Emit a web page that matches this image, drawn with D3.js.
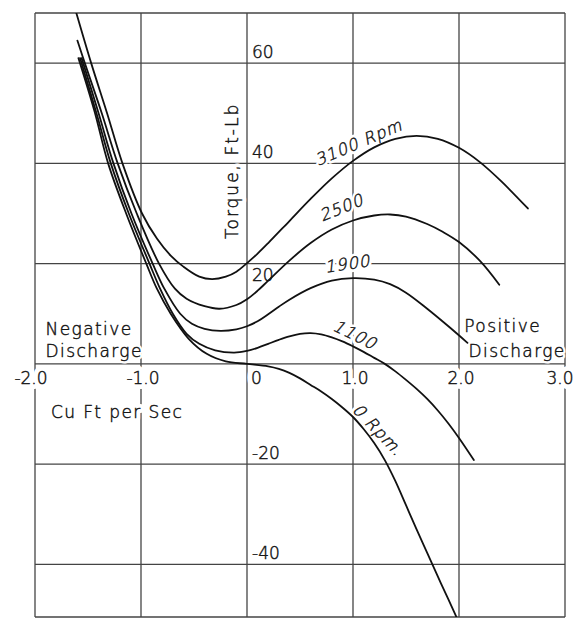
<!DOCTYPE html>
<html><head><meta charset="utf-8">
<script src="https://cdn.jsdelivr.net/npm/d3@7"></script>
<style>body{margin:0;background:#fff}svg{display:block}</style>
</head><body><svg id="c" width="576" height="619"></svg>
<script>
// ---- data ----
const xDomain = [-2, 3];
const yDomain = [-50.5, 70];
const xTicks = [-2, -1, 0, 1, 2, 3];
const xTickLabels = ["-2.0", "-1.0", "0", "1.0", "2.0", "3.0"];
const yTicks = [60, 40, 20, -20, -40];
const yTickLabels = ["60", "40", "20", "-20", "-40"];
const gridY = [60, 40, 20, 0, -20, -40];
const seriesNames = ["3100 Rpm", "2500", "1900", "1100", "0 Rpm."];
const rpm3100 = [[-1.61,70],[-1.47,60],[-1.32,50],[-1.175,40],[-0.99,30],[-0.85,25],[-0.72,21.6],[-0.6,19.4],[-0.45,17.4],[-0.33,16.9],[-0.2,17.4],[-0.1,18.4],[0,20.1],[0.1,22.0],[0.2,24.1],[0.4,28.5],[0.6,32.9],[0.8,37.0],[1.0,40.5],[1.2,43.2],[1.4,44.9],[1.6,45.5],[1.8,44.9],[2.0,43.1],[2.2,40.2],[2.4,36.4],[2.65,31]];
const rpm2500 = [[-1.6,64.5],[-1.53,60],[-1.37,50],[-1.22,40],[-1.04,30],[-0.83,20],[-0.68,15],[-0.57,13],[-0.4,11.5],[-0.26,11.0],[-0.1,11.75],[0,12.9],[0.1,14.6],[0.2,16.6],[0.4,20.6],[0.6,24.1],[0.8,26.8],[1.0,28.6],[1.2,29.6],[1.35,29.8],[1.5,29.4],[1.7,27.9],[1.85,26.3],[2.0,24.3],[2.2,20.5],[2.38,15.8]];
const rpm1900 = [[-1.56,61],[-1.40,50],[-1.26,40],[-1.09,30],[-0.89,20],[-0.78,15],[-0.63,10],[-0.52,8],[-0.4,7],[-0.25,6.6],[-0.1,6.9],[0,7.5],[0.1,8.5],[0.2,9.9],[0.3,11.4],[0.4,12.8],[0.6,15.1],[0.8,16.6],[1.0,17.1],[1.2,16.8],[1.35,15.9],[1.5,14.2],[1.7,11.0],[1.9,7.5],[2.08,4.2]];
const rpm1100 = [[-1.575,61],[-1.42,50],[-1.285,40],[-1.115,30],[-0.92,20],[-0.82,15],[-0.70,10],[-0.57,6],[-0.45,4],[-0.3,2.7],[-0.12,2.25],[0,2.6],[0.1,3.2],[0.2,4.0],[0.3,4.8],[0.4,5.5],[0.5,6.0],[0.6,6.15],[0.7,5.9],[0.8,5.3],[0.9,4.5],[1.0,3.5],[1.1,2.4],[1.2,1.2],[1.3,0.0],[1.4,-1.5],[1.5,-3.2],[1.6,-5.0],[1.7,-7.0],[1.8,-9.3],[1.9,-11.9],[2.0,-14.8],[2.14,-19.2]];
const rpm0 = [[-1.59,61],[-1.44,50.5],[-1.31,40],[-1.14,30],[-0.95,20],[-0.85,15],[-0.72,10],[-0.55,5],[-0.38,2],[-0.2,0.5],[0,0],[0.2,-0.5],[0.3,-1.0],[0.4,-1.8],[0.5,-2.9],[0.6,-4.2],[0.7,-5.5],[0.8,-7.0],[0.9,-8.7],[1.0,-10.6],[1.1,-13.0],[1.2,-15.8],[1.3,-19.2],[1.4,-23.4],[1.5,-28.2],[1.6,-33.0],[1.7,-37.7],[1.8,-42.4],[1.9,-47.0],[1.98,-50.7]];
const series = [rpm3100, rpm2500, rpm1900, rpm1100, rpm0];

// ---- layout ----
const svg = d3.select("#c");
const x = d3.scaleLinear().domain(xDomain).range([35, 565]);
const y = d3.scaleLinear().domain(yDomain).range([617, 13]);
const FONT = "DejaVu Sans, Verdana, sans-serif";
const INK = "#161616", GRID = "#444";

svg.append("rect").attr("width", 576).attr("height", 619).attr("fill", "#fff");

// grid + frame
const g = svg.append("g").attr("stroke", GRID).attr("stroke-width", 1.3).attr("fill", "none");
g.selectAll("line.v").data(xTicks).join("line")
  .attr("x1", d => x(d)).attr("x2", d => x(d))
  .attr("y1", y(yDomain[1])).attr("y2", y(yDomain[0]));
g.selectAll("line.h").data(gridY.concat(yDomain)).join("line")
  .attr("x1", x(xDomain[0])).attr("x2", x(xDomain[1]))
  .attr("y1", d => y(d)).attr("y2", d => y(d));

// text helper: white halo layer + ink layer
function label(parent, txt, transform, o) {
  const gg = parent.append("g").attr("transform", transform)
    .attr("font-family", FONT).attr("font-size", o.size || 17).attr("font-weight", 200)
    .attr("letter-spacing", o.ls || 0).attr("text-anchor", o.anchor || "start");
  if (o.halo) gg.append("text").text(txt).attr("fill", "#fff").attr("stroke", "#fff")
    .attr("stroke-width", o.halo).attr("stroke-linejoin", "round");
  gg.append("text").text(txt).attr("fill", INK).attr("stroke", INK).attr("stroke-width", 0.45);
  return gg;
}

// x tick labels
const xl = svg.append("g");
xTicks.forEach((d, i) => {
  const px = d === 0 ? x(d) + 4 : x(d) + (d === xDomain[0] ? -4 : d === xDomain[1] ? -5 : 2);
  label(xl, xTickLabels[i], `translate(${px},${y(0) + 20})`, {anchor: d === 0 ? "start" : "middle", halo: 10});
});

// y tick labels
const yl = svg.append("g");
yTicks.forEach((d, i) => {
  label(yl, yTickLabels[i], `translate(${x(0) + 5},${d === 20 ? y(d) + 17 : y(d) - 5})`, {});
});

// axis titles and region labels
const t = svg.append("g");
label(t, "Torque, Ft-Lb", `translate(${x(0) - 9},${y(38.5)}) rotate(-90)`, {anchor: "middle", ls: 2, halo: 8});
label(t, "Cu Ft per Sec", `translate(${x(-1.85)},${y(-10.8)})`, {ls: 1.4, halo: 8});
label(t, "Negative", `translate(${x(-1.9)},${y(5.8)})`, {ls: 1.4, halo: 5});
label(t, "Discharge", `translate(${x(-1.9)},${y(1.4)})`, {ls: 1.4, halo: 5});
label(t, "Positive", `translate(${x(2.05)},${y(6.4)})`, {ls: 1.4, halo: 5});
label(t, "Discharge", `translate(${x(2.09)},${y(1.4)})`, {ls: 1.4, halo: 5});

// curve labels (slanted lettering)
const cl = svg.append("g");
const labelPos = [
  {px: x(0.67), py: y(39.5), a: -23},
  {px: x(0.71), py: y(28.4), a: -22},
  {px: x(0.74), py: y(18.2), a: -8},
  {px: x(0.8), py: y(6.8), a: 26},
  {px: x(0.985), py: y(-9.3), a: 46}
];
seriesNames.forEach((d, i) => {
  const p = labelPos[i];
  label(cl, d, `translate(${p.px},${p.py}) rotate(${p.a}) skewX(-14)`, {size: 16.5, ls: 1, halo: 6});
});

// curves
svg.append("clipPath").attr("id", "clip").append("rect")
  .attr("x", x(xDomain[0])).attr("y", y(yDomain[1]))
  .attr("width", x(xDomain[1]) - x(xDomain[0])).attr("height", y(yDomain[0]) - y(yDomain[1]));
const line = d3.line().x(d => x(d[0])).y(d => y(d[1])).curve(d3.curveCatmullRom.alpha(0.5));
svg.append("g").attr("clip-path", "url(#clip)")
  .selectAll("path").data(series).join("path")
  .attr("d", line).attr("fill", "none").attr("stroke", "#111").attr("stroke-width", 1.8)
  .attr("stroke-linecap", "round");
</script></body></html>
